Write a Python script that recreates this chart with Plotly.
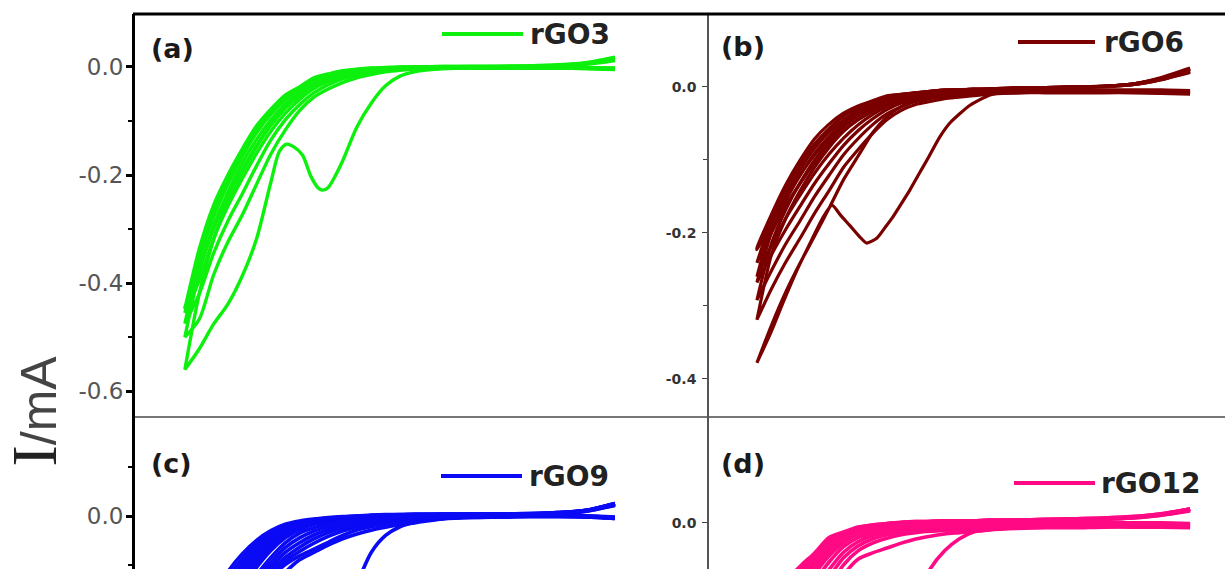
import plotly.graph_objects as go

# ---------------------------------------------------------------------------
# Cyclic voltammograms of the rGO electrodes (current in mA vs potential in V)
# ---------------------------------------------------------------------------
POTENTIAL_V = [-1.20, -1.15, -1.10, -1.05, -1.00, -0.95, -0.90, -0.85, -0.80, -0.75,
               -0.70, -0.65, -0.60, -0.55, -0.50, -0.45, -0.40, -0.30, -0.20, -0.10,
               0.00, 0.10, 0.20, 0.30]

# --- rGO3: first cathodic sweep (reduction peak) sampled more finely ---------
RGO3_FIRST_SWEEP_E = [-1.20, -1.15, -1.10, -1.05, -1.00, -0.95, -0.90, -0.87, -0.845, -0.82,
                      -0.79, -0.76, -0.735, -0.72, -0.70, -0.68, -0.65, -0.60, -0.55, -0.50,
                      -0.45, -0.40, -0.30, -0.20, -0.10, 0.00, 0.10, 0.20, 0.30]
RGO3_FIRST_SWEEP_I = [-0.560, -0.522, -0.476, -0.439, -0.387, -0.318, -0.213, -0.156, -0.143, -0.148,
                      -0.163, -0.203, -0.224, -0.228, -0.223, -0.206, -0.174, -0.111, -0.067, -0.035,
                      -0.017, -0.009, -0.003, -0.002, -0.002, -0.002, -0.002, -0.002, -0.004]
# cathodic sweeps of cycles 2..5
RGO3_CATHODIC = [
    [-0.500, -0.467, -0.385, -0.324, -0.274, -0.217, -0.161, -0.117, -0.081, -0.056, -0.041, -0.029,
     -0.020, -0.014, -0.009, -0.006, -0.004, -0.003, -0.002, -0.002, -0.002, -0.002, -0.003, -0.005],
    [-0.475, -0.420, -0.345, -0.285, -0.235, -0.183, -0.135, -0.098, -0.070, -0.048, -0.033, -0.022,
     -0.015, -0.010, -0.006, -0.004, -0.003, -0.002, -0.002, -0.002, -0.002, -0.002, -0.003, -0.004],
    [-0.455, -0.395, -0.318, -0.258, -0.207, -0.160, -0.119, -0.086, -0.060, -0.040, -0.027, -0.018,
     -0.012, -0.008, -0.005, -0.003, -0.002, -0.002, -0.001, -0.001, -0.001, -0.001, -0.002, -0.003],
    [-0.445, -0.375, -0.300, -0.240, -0.190, -0.145, -0.107, -0.076, -0.052, -0.034, -0.023, -0.015,
     -0.010, -0.006, -0.004, -0.002, -0.001, -0.001, -0.001, -0.001, -0.001, -0.001, -0.001, -0.002],
]
# anodic (return) sweeps of cycles 1..5
RGO3_ANODIC = [
    [-0.560, -0.420, -0.320, -0.250, -0.195, -0.148, -0.108, -0.076, -0.052, -0.034, -0.022, -0.014,
     -0.009, -0.005, -0.003, -0.002, -0.001, 0.000, 0.000, 0.000, 0.001, 0.002, 0.005, 0.012],
    [-0.500, -0.380, -0.295, -0.232, -0.178, -0.134, -0.098, -0.069, -0.047, -0.030, -0.019, -0.012,
     -0.007, -0.004, -0.002, -0.001, 0.000, 0.000, 0.000, 0.001, 0.001, 0.002, 0.006, 0.014],
    [-0.475, -0.360, -0.278, -0.217, -0.166, -0.122, -0.088, -0.061, -0.041, -0.025, -0.016, -0.009,
     -0.005, -0.003, -0.002, -0.001, 0.000, 0.000, 0.001, 0.001, 0.001, 0.003, 0.007, 0.016],
    [-0.455, -0.345, -0.265, -0.206, -0.157, -0.115, -0.082, -0.056, -0.038, -0.022, -0.014, -0.008,
     -0.005, -0.003, -0.002, -0.001, 0.000, 0.001, 0.001, 0.001, 0.002, 0.003, 0.007, 0.017],
    [-0.446, -0.337, -0.256, -0.200, -0.152, -0.109, -0.078, -0.052, -0.037, -0.020, -0.013, -0.007,
     -0.004, -0.002, -0.001, 0.000, 0.000, 0.001, 0.001, 0.001, 0.002, 0.004, 0.008, 0.018],
]

# --- rGO6 -------------------------------------------------------------------
RGO6_FIRST_SWEEP_E = [-1.20, -1.15, -1.11, -1.06, -1.027, -0.97, -0.94, -0.91, -0.878, -0.845,
                      -0.82, -0.784, -0.755, -0.729, -0.70, -0.67, -0.64, -0.611, -0.566, -0.531,
                      -0.462, -0.393, -0.324, -0.20, -0.10, 0.00, 0.10, 0.20, 0.30]
RGO6_FIRST_SWEEP_I = [-0.378, -0.335, -0.296, -0.250, -0.223, -0.178, -0.162, -0.176, -0.190, -0.205,
                      -0.214, -0.207, -0.192, -0.178, -0.160, -0.141, -0.120, -0.100, -0.068, -0.049,
                      -0.025, -0.011, -0.006, -0.006, -0.006, -0.006, -0.006, -0.007, -0.008]
RGO6_CATHODIC = [
    [-0.319, -0.277, -0.240, -0.207, -0.173, -0.142, -0.110, -0.086, -0.064, -0.045, -0.032, -0.024,
     -0.020, -0.016, -0.014, -0.012, -0.010, -0.008, -0.008, -0.008, -0.008, -0.008, -0.009, -0.010],
    [-0.292, -0.252, -0.215, -0.183, -0.150, -0.121, -0.093, -0.071, -0.052, -0.037, -0.027, -0.020,
     -0.016, -0.013, -0.011, -0.010, -0.009, -0.008, -0.007, -0.007, -0.007, -0.007, -0.008, -0.009],
    [-0.268, -0.230, -0.195, -0.163, -0.132, -0.105, -0.080, -0.060, -0.044, -0.031, -0.022, -0.017,
     -0.013, -0.011, -0.010, -0.009, -0.008, -0.007, -0.007, -0.007, -0.007, -0.007, -0.007, -0.008],
    [-0.260, -0.218, -0.180, -0.148, -0.118, -0.092, -0.070, -0.052, -0.038, -0.027, -0.019, -0.014,
     -0.011, -0.009, -0.008, -0.007, -0.007, -0.006, -0.006, -0.006, -0.006, -0.006, -0.006, -0.007],
    [-0.241, -0.200, -0.163, -0.132, -0.104, -0.080, -0.060, -0.045, -0.033, -0.023, -0.016, -0.012,
     -0.009, -0.008, -0.007, -0.006, -0.006, -0.005, -0.005, -0.005, -0.005, -0.005, -0.005, -0.006],
    [-0.223, -0.185, -0.150, -0.120, -0.093, -0.070, -0.052, -0.039, -0.029, -0.020, -0.014, -0.010,
     -0.008, -0.006, -0.005, -0.005, -0.004, -0.004, -0.004, -0.004, -0.004, -0.004, -0.004, -0.005],
]
RGO6_ANODIC = [
    [-0.378, -0.327, -0.281, -0.241, -0.204, -0.166, -0.127, -0.095, -0.063, -0.041, -0.027, -0.019,
     -0.014, -0.010, -0.007, -0.005, -0.004, -0.003, -0.002, -0.001, 0.000, 0.003, 0.010, 0.020],
    [-0.319, -0.230, -0.180, -0.142, -0.110, -0.083, -0.061, -0.045, -0.033, -0.023, -0.016, -0.012,
     -0.009, -0.007, -0.005, -0.004, -0.003, -0.002, -0.001, 0.000, 0.001, 0.004, 0.012, 0.024],
    [-0.292, -0.215, -0.168, -0.131, -0.100, -0.075, -0.055, -0.040, -0.029, -0.020, -0.014, -0.010,
     -0.008, -0.006, -0.005, -0.004, -0.003, -0.002, -0.001, 0.000, 0.001, 0.004, 0.012, 0.025],
    [-0.268, -0.200, -0.156, -0.121, -0.091, -0.068, -0.049, -0.036, -0.026, -0.017, -0.012, -0.009,
     -0.007, -0.005, -0.004, -0.004, -0.003, -0.002, -0.001, 0.000, 0.001, 0.004, 0.013, 0.026],
    [-0.260, -0.190, -0.148, -0.113, -0.084, -0.062, -0.045, -0.032, -0.023, -0.015, -0.011, -0.008,
     -0.006, -0.005, -0.004, -0.003, -0.003, -0.002, -0.001, 0.000, 0.001, 0.004, 0.012, 0.024],
    [-0.241, -0.182, -0.140, -0.106, -0.078, -0.057, -0.040, -0.029, -0.021, -0.014, -0.010, -0.008,
     -0.006, -0.004, -0.004, -0.003, -0.003, -0.001, -0.001, 0.000, 0.001, 0.003, 0.011, 0.022],
    [-0.221, -0.175, -0.134, -0.100, -0.071, -0.051, -0.036, -0.026, -0.019, -0.012, -0.010, -0.008,
     -0.006, -0.004, -0.004, -0.003, -0.003, -0.001, -0.001, 0.000, 0.001, 0.003, 0.010, 0.021],
]

# --- rGO9 (cycle 1 first in each list) ---------------------------------------
RGO9_CATHODIC = [
    [-0.620, -0.580, -0.530, -0.480, -0.420, -0.340, -0.240, -0.170, -0.180, -0.230, -0.250, -0.210,
     -0.140, -0.075, -0.040, -0.022, -0.013, -0.005, -0.002, -0.001, 0.000, 0.000, -0.001, -0.004],
    [-0.580, -0.500, -0.410, -0.330, -0.260, -0.200, -0.150, -0.116, -0.090, -0.075, -0.060, -0.047,
     -0.037, -0.029, -0.023, -0.018, -0.014, -0.006, -0.003, -0.002, -0.001, -0.001, -0.002, -0.005],
    [-0.550, -0.450, -0.350, -0.270, -0.210, -0.165, -0.127, -0.100, -0.082, -0.068, -0.054, -0.040,
     -0.029, -0.022, -0.017, -0.013, -0.010, -0.005, -0.003, -0.002, -0.001, -0.001, -0.002, -0.005],
    [-0.520, -0.410, -0.315, -0.245, -0.190, -0.153, -0.120, -0.093, -0.073, -0.056, -0.042, -0.031,
     -0.023, -0.017, -0.013, -0.010, -0.008, -0.004, -0.002, -0.001, -0.001, -0.001, -0.001, -0.004],
    [-0.500, -0.385, -0.290, -0.222, -0.176, -0.143, -0.112, -0.085, -0.064, -0.047, -0.034, -0.025,
     -0.018, -0.013, -0.010, -0.007, -0.006, -0.003, -0.002, -0.001, 0.000, 0.000, -0.001, -0.004],
    [-0.480, -0.365, -0.272, -0.208, -0.165, -0.136, -0.104, -0.075, -0.055, -0.039, -0.028, -0.020,
     -0.015, -0.011, -0.008, -0.006, -0.005, -0.003, -0.001, 0.000, 0.000, 0.000, 0.000, -0.003],
    [-0.460, -0.345, -0.255, -0.195, -0.155, -0.128, -0.095, -0.065, -0.045, -0.031, -0.022, -0.016,
     -0.012, -0.009, -0.007, -0.005, -0.004, -0.002, -0.001, 0.000, 0.000, 0.000, 0.000, -0.003],
    [-0.450, -0.330, -0.240, -0.180, -0.145, -0.120, -0.085, -0.055, -0.035, -0.024, -0.017, -0.012,
     -0.009, -0.007, -0.005, -0.004, -0.003, -0.002, -0.001, 0.000, 0.000, 0.000, 0.000, -0.002],
]
RGO9_ANODIC = [
    [-0.620, -0.380, -0.275, -0.203, -0.150, -0.106, -0.071, -0.045, -0.028, -0.017, -0.011, -0.007,
     -0.004, -0.002, -0.001, 0.000, 0.001, 0.001, 0.002, 0.002, 0.003, 0.005, 0.010, 0.022],
    [-0.580, -0.360, -0.260, -0.190, -0.138, -0.097, -0.064, -0.040, -0.025, -0.015, -0.009, -0.006,
     -0.003, -0.001, 0.000, 0.001, 0.001, 0.002, 0.002, 0.002, 0.003, 0.005, 0.010, 0.023],
    [-0.550, -0.345, -0.245, -0.178, -0.128, -0.089, -0.058, -0.036, -0.022, -0.013, -0.008, -0.005,
     -0.003, -0.001, 0.000, 0.001, 0.002, 0.002, 0.003, 0.003, 0.003, 0.005, 0.011, 0.024],
    [-0.520, -0.330, -0.230, -0.165, -0.118, -0.081, -0.052, -0.032, -0.019, -0.011, -0.007, -0.004,
     -0.002, 0.000, 0.001, 0.001, 0.002, 0.003, 0.003, 0.003, 0.004, 0.006, 0.011, 0.025],
    [-0.500, -0.315, -0.215, -0.152, -0.108, -0.073, -0.046, -0.028, -0.016, -0.010, -0.006, -0.003,
     -0.001, 0.000, 0.001, 0.002, 0.002, 0.003, 0.003, 0.003, 0.004, 0.006, 0.012, 0.025],
    [-0.480, -0.300, -0.200, -0.140, -0.098, -0.065, -0.040, -0.024, -0.014, -0.008, -0.005, -0.002,
     -0.001, 0.001, 0.002, 0.002, 0.003, 0.003, 0.004, 0.004, 0.004, 0.007, 0.012, 0.026],
    [-0.460, -0.285, -0.185, -0.127, -0.088, -0.057, -0.035, -0.020, -0.012, -0.007, -0.004, -0.002,
     0.000, 0.001, 0.002, 0.003, 0.003, 0.004, 0.004, 0.004, 0.005, 0.007, 0.012, 0.026],
    [-0.450, -0.270, -0.170, -0.115, -0.078, -0.050, -0.030, -0.017, -0.010, -0.006, -0.003, -0.001,
     0.000, 0.002, 0.003, 0.003, 0.004, 0.004, 0.004, 0.004, 0.005, 0.007, 0.012, 0.026],
]

# --- rGO12 (cycle 1 first in each list) --------------------------------------
RGO12_CATHODIC = [
    [-0.420, -0.370, -0.320, -0.280, -0.240, -0.200, -0.175, -0.190, -0.215, -0.205, -0.165, -0.110,
     -0.066, -0.040, -0.023, -0.013, -0.010, -0.007, -0.006, -0.005, -0.005, -0.005, -0.006, -0.007],
    [-0.360, -0.300, -0.245, -0.195, -0.150, -0.110, -0.075, -0.052, -0.043, -0.036, -0.029, -0.023,
     -0.019, -0.016, -0.014, -0.012, -0.010, -0.008, -0.007, -0.007, -0.006, -0.006, -0.006, -0.006],
    [-0.330, -0.270, -0.215, -0.165, -0.125, -0.092, -0.060, -0.040, -0.029, -0.022, -0.017, -0.014,
     -0.012, -0.011, -0.010, -0.009, -0.008, -0.007, -0.006, -0.006, -0.005, -0.005, -0.005, -0.006],
    [-0.310, -0.250, -0.195, -0.148, -0.110, -0.078, -0.050, -0.033, -0.023, -0.017, -0.013, -0.011,
     -0.009, -0.008, -0.007, -0.007, -0.006, -0.005, -0.004, -0.004, -0.004, -0.004, -0.004, -0.005],
    [-0.290, -0.230, -0.178, -0.133, -0.097, -0.067, -0.042, -0.027, -0.018, -0.013, -0.010, -0.008,
     -0.007, -0.006, -0.005, -0.005, -0.004, -0.003, -0.003, -0.003, -0.003, -0.003, -0.003, -0.004],
    [-0.270, -0.210, -0.160, -0.118, -0.084, -0.056, -0.034, -0.021, -0.014, -0.010, -0.007, -0.006,
     -0.005, -0.004, -0.004, -0.003, -0.003, -0.002, -0.002, -0.002, -0.002, -0.002, -0.002, -0.003],
    [-0.260, -0.195, -0.145, -0.105, -0.073, -0.047, -0.028, -0.016, -0.010, -0.007, -0.005, -0.004,
     -0.003, -0.003, -0.002, -0.002, -0.002, -0.001, -0.001, -0.001, -0.001, -0.001, -0.001, -0.002],
    [-0.250, -0.185, -0.135, -0.096, -0.066, -0.042, -0.024, -0.013, -0.008, -0.005, -0.003, -0.002,
     -0.002, -0.001, -0.001, -0.001, -0.001, 0.000, 0.000, 0.000, 0.000, 0.000, 0.000, -0.001],
]
RGO12_ANODIC = [
    [-0.420, -0.200, -0.125, -0.090, -0.071, -0.042, -0.027, -0.013, -0.008, -0.005, -0.003, -0.001,
     0.000, 0.001, 0.001, 0.002, 0.002, 0.002, 0.003, 0.004, 0.005, 0.007, 0.011, 0.017],
    [-0.360, -0.185, -0.119, -0.086, -0.067, -0.039, -0.025, -0.012, -0.007, -0.004, -0.002, 0.000,
     0.001, 0.001, 0.002, 0.002, 0.002, 0.003, 0.003, 0.004, 0.005, 0.007, 0.011, 0.018],
    [-0.330, -0.170, -0.113, -0.082, -0.063, -0.036, -0.023, -0.011, -0.006, -0.003, -0.001, 0.000,
     0.001, 0.002, 0.002, 0.002, 0.003, 0.003, 0.004, 0.005, 0.006, 0.008, 0.012, 0.019],
    [-0.310, -0.160, -0.107, -0.078, -0.059, -0.033, -0.021, -0.010, -0.005, -0.003, -0.001, 0.001,
     0.001, 0.002, 0.002, 0.003, 0.003, 0.003, 0.004, 0.005, 0.006, 0.008, 0.012, 0.019],
    [-0.290, -0.152, -0.101, -0.074, -0.055, -0.030, -0.019, -0.009, -0.004, -0.002, 0.000, 0.001,
     0.002, 0.002, 0.003, 0.003, 0.003, 0.004, 0.004, 0.005, 0.006, 0.008, 0.012, 0.020],
    [-0.270, -0.145, -0.095, -0.070, -0.051, -0.027, -0.017, -0.008, -0.004, -0.002, 0.000, 0.001,
     0.002, 0.002, 0.003, 0.003, 0.003, 0.004, 0.004, 0.005, 0.006, 0.008, 0.012, 0.020],
    [-0.260, -0.140, -0.090, -0.066, -0.047, -0.024, -0.015, -0.007, -0.003, -0.001, 0.001, 0.002,
     0.002, 0.003, 0.003, 0.003, 0.004, 0.004, 0.005, 0.006, 0.007, 0.009, 0.013, 0.020],
    [-0.250, -0.135, -0.085, -0.062, -0.043, -0.021, -0.013, -0.006, -0.003, -0.001, 0.001, 0.002,
     0.002, 0.003, 0.003, 0.003, 0.004, 0.004, 0.005, 0.006, 0.007, 0.009, 0.013, 0.020],
]

# tick values (mA) of each panel's current axis
RGO3_TICKS, RGO3_MINOR = [0.0, -0.2, -0.4, -0.6], [-0.1, -0.3, -0.5]
RGO6_TICKS, RGO6_MINOR = [0.0, -0.2, -0.4], [-0.1, -0.3]
RGO9_TICKS, RGO9_MINOR = [0.0], [0.1, -0.1]
RGO12_TICKS = [0.0]

SAMPLE_NAMES = ["rGO3", "rGO6", "rGO9", "rGO12"]
PANEL_TAGS = ["(a)", "(b)", "(c)", "(d)"]
COLORS = ["#0DF00D", "#7A0000", "#0A0AF5", "#FF0A84"]

# ---------------------------------------------------------------------------
W, H = 1225, 569


def fx(px):
    return px / W


def fy(py):
    return 1 - py / H


def sweep_loop(e_cath, i_cath, e_an, i_an):
    """Cathodic sweep (positive -> negative) followed by the anodic return."""
    return list(e_cath[::-1]) + list(e_an), list(i_cath[::-1]) + list(i_an)


fig = go.Figure()


def add_panel(axis_id, first_e, first_i, cathodic, anodic, color, width, smoothing):
    loops = []
    if first_e is not None:
        loops.append(sweep_loop(first_e, first_i, POTENTIAL_V, anodic[0]))
        pairs = zip(cathodic, anodic[1:])
    else:
        pairs = zip(cathodic, anodic)
    for cath, an in pairs:
        loops.append(sweep_loop(POTENTIAL_V, cath, POTENTIAL_V, an))
    for xs, ys in loops:
        fig.add_trace(go.Scatter(
            x=xs, y=ys, mode="lines",
            line=dict(color=color, width=width, shape="spline", smoothing=smoothing),
            xaxis="x" + axis_id, yaxis="y" + axis_id,
            showlegend=False, hoverinfo="skip"))


add_panel("", RGO3_FIRST_SWEEP_E, RGO3_FIRST_SWEEP_I, RGO3_CATHODIC, RGO3_ANODIC, COLORS[0], 3.4, 0.8)
add_panel("2", RGO6_FIRST_SWEEP_E, RGO6_FIRST_SWEEP_I, RGO6_CATHODIC, RGO6_ANODIC, COLORS[1], 3.2, 0.6)
add_panel("3", None, None, RGO9_CATHODIC, RGO9_ANODIC, COLORS[2], 3.6, 0.8)
add_panel("4", None, None, RGO12_CATHODIC, RGO12_ANODIC, COLORS[3], 3.6, 0.8)

# ---------------------------------------------------------------------------
# axes
X_LEFT_DOM = [fx(135), fx(709)]
X_RIGHT_DOM = [fx(709), 1.0]
Y_TOP_DOM = [fy(416), fy(14)]
Y_BOT_DOM = [0.0, fy(416)]

hidden_x = dict(showticklabels=False, ticks="", showgrid=False, zeroline=False)


def fmt(vals):
    return [f"{v:.1f}" for v in vals]


big_font = dict(family="DejaVu Sans", size=23, color="#555555")
small_font = dict(family="DejaVu Sans", size=14, color="#333333", weight="bold")

left_y = dict(showline=True, linecolor="black", linewidth=3, ticks="outside", ticklen=6,
              tickwidth=2.5, tickcolor="black", tickfont=big_font, showgrid=False,
              zeroline=False, ticklabelstandoff=-2)
right_y = dict(showline=True, linecolor="#555555", linewidth=1.5, ticks="outside", ticklen=5,
               tickwidth=1, tickcolor="#444444", tickfont=small_font, showgrid=False,
               zeroline=False, ticklabelstandoff=3)

fig.update_layout(
    width=W, height=H, margin=dict(l=0, r=0, t=0, b=0),
    paper_bgcolor="white", plot_bgcolor="white",
    xaxis=dict(domain=X_LEFT_DOM, range=[-1.374, 0.628], anchor="y", showline=True,
               linecolor="#777777", linewidth=2, **hidden_x),
    yaxis=dict(domain=Y_TOP_DOM, range=[-0.646, 0.098], anchor="x",
               tickvals=RGO3_TICKS, ticktext=fmt(RGO3_TICKS),
               minor=dict(tickvals=RGO3_MINOR, ticks="outside", ticklen=4, tickwidth=2,
                          tickcolor="black"),
               **left_y),
    xaxis2=dict(domain=X_RIGHT_DOM, range=[-1.366, 0.421], anchor="y2", showline=True,
                linecolor="#777777", linewidth=2, **hidden_x),
    yaxis2=dict(domain=Y_TOP_DOM, range=[-0.451, 0.100], anchor="x2",
                tickvals=RGO6_TICKS, ticktext=fmt(RGO6_TICKS),
                minor=dict(tickvals=RGO6_MINOR, ticks="outside", ticklen=4, tickwidth=1,
                           tickcolor="#444444"),
                **right_y),
    xaxis3=dict(domain=X_LEFT_DOM, range=[-1.374, 0.628], anchor="y3", showline=False,
                **hidden_x),
    yaxis3=dict(domain=Y_BOT_DOM, range=[-0.109, 0.206], anchor="x3",
                tickvals=RGO9_TICKS, ticktext=fmt(RGO9_TICKS),
                minor=dict(tickvals=RGO9_MINOR, ticks="outside", ticklen=4, tickwidth=2,
                           tickcolor="black"),
                **left_y),
    xaxis4=dict(domain=X_RIGHT_DOM, range=[-1.366, 0.421], anchor="y4", showline=False,
                **hidden_x),
    yaxis4=dict(domain=Y_BOT_DOM, range=[-0.066, 0.153], anchor="x4",
                tickvals=RGO12_TICKS, ticktext=fmt(RGO12_TICKS), **right_y),
)

# heavy frame line along the top of the figure
fig.add_shape(type="line", xref="paper", yref="paper", x0=fx(133), x1=1.0,
              y0=fy(14), y1=fy(14), line=dict(color="black", width=3))

# panel tags and legend keys: (line start, line end, text start, y)
tag_pos = [(149, 48), (719, 47), (149, 463), (719, 463)]
key_pos = [(442, 523, 528, 34), (1018, 1095, 1102, 42), (441, 522, 527, 476),
           (1014, 1095, 1099, 483)]
for tag, (tx, ty), name, (kx0, kx1, ktx, ky), col in zip(PANEL_TAGS, tag_pos, SAMPLE_NAMES,
                                                          key_pos, COLORS):
    fig.add_annotation(xref="paper", yref="paper", x=fx(tx), y=fy(ty), text=tag,
                       showarrow=False, xanchor="left", yanchor="middle",
                       font=dict(family="DejaVu Sans", size=27, color="#1a1a1a",
                                 weight="bold"))
    fig.add_shape(type="line", xref="paper", yref="paper", x0=fx(kx0), x1=fx(kx1),
                  y0=fy(ky), y1=fy(ky), line=dict(color=col, width=4))
    fig.add_annotation(xref="paper", yref="paper", x=fx(ktx), y=fy(ky), text=name,
                       showarrow=False, xanchor="left", yanchor="middle",
                       font=dict(family="DejaVu Sans", size=28, color="#222222",
                                 weight="bold"))

# current axis title
fig.add_annotation(
    xref="paper", yref="paper", x=fx(-4), y=fy(411), textangle=-90, showarrow=False,
    xanchor="left", yanchor="middle",
    text='<span style="font-family:Liberation Serif;font-size:64px">I</span>'
         '<span style="font-family:Liberation Sans;font-size:50px;color:#444444">/mA</span>',
    font=dict(family="Liberation Sans", size=50, color="#222222"))

fig.write_html("out.html")
